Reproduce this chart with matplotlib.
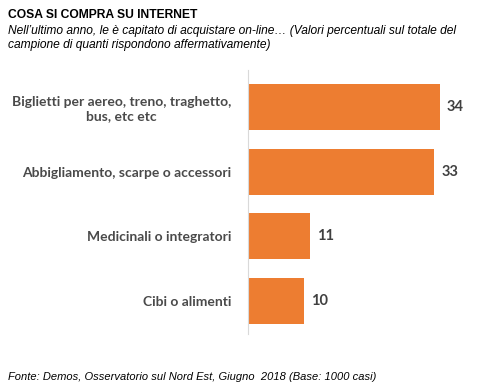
import matplotlib.pyplot as plt

categories = ["Biglietti per aereo, treno, traghetto,\nbus, etc etc",
              "Abbigliamento, scarpe o accessori",
              "Medicinali o integratori",
              "Cibi o alimenti"]
values = [34, 33, 11, 10]

fig = plt.figure(figsize=(5.04, 3.87), dpi=100)
ax = fig.add_axes([0.492, 0.137, 0.478, 0.682])

y = range(len(categories))
ax.barh(y, values, height=0.71, color="#ED7D31")
ax.set_xlim(0, 42.65)
ax.set_ylim(3.51, -0.57)

for i, v in enumerate(values):
    ax.text(v + 1.2, i, str(v), va="center", ha="left", fontsize=10.5,
            fontweight="bold", color="#404040", family="Lato")

ax.set_yticks(list(y))
ax.set_yticklabels(categories, fontsize=10, fontweight="bold", color="#4a4a4a",
                   family="Lato", ha="right", multialignment="center")
ax.tick_params(axis="y", length=0, pad=12)
ax.set_xticks([])
for s in ["top", "right", "bottom"]:
    ax.spines[s].set_visible(False)
ax.spines["left"].set_color("#d9d9d9")

fig.text(0.016, 0.977, "COSA SI COMPRA SU INTERNET", fontsize=8.7, fontweight="bold",
         family="Liberation Sans", va="top")
fig.text(0.016, 0.936, "Nell\u2019ultimo anno, le è capitato di acquistare on-line\u2026 (Valori percentuali sul totale del\ncampione di quanti rispondono affermativamente)",
         fontsize=8.65, style="italic", family="Liberation Sans", va="top", linespacing=1.2)
fig.text(0.016, 0.026, "Fonte: Demos, Osservatorio sul Nord Est, Giugno  2018 (Base: 1000 casi)",
         fontsize=8, style="italic", family="Liberation Sans", va="center")

fig.savefig("out.png", dpi=100)
